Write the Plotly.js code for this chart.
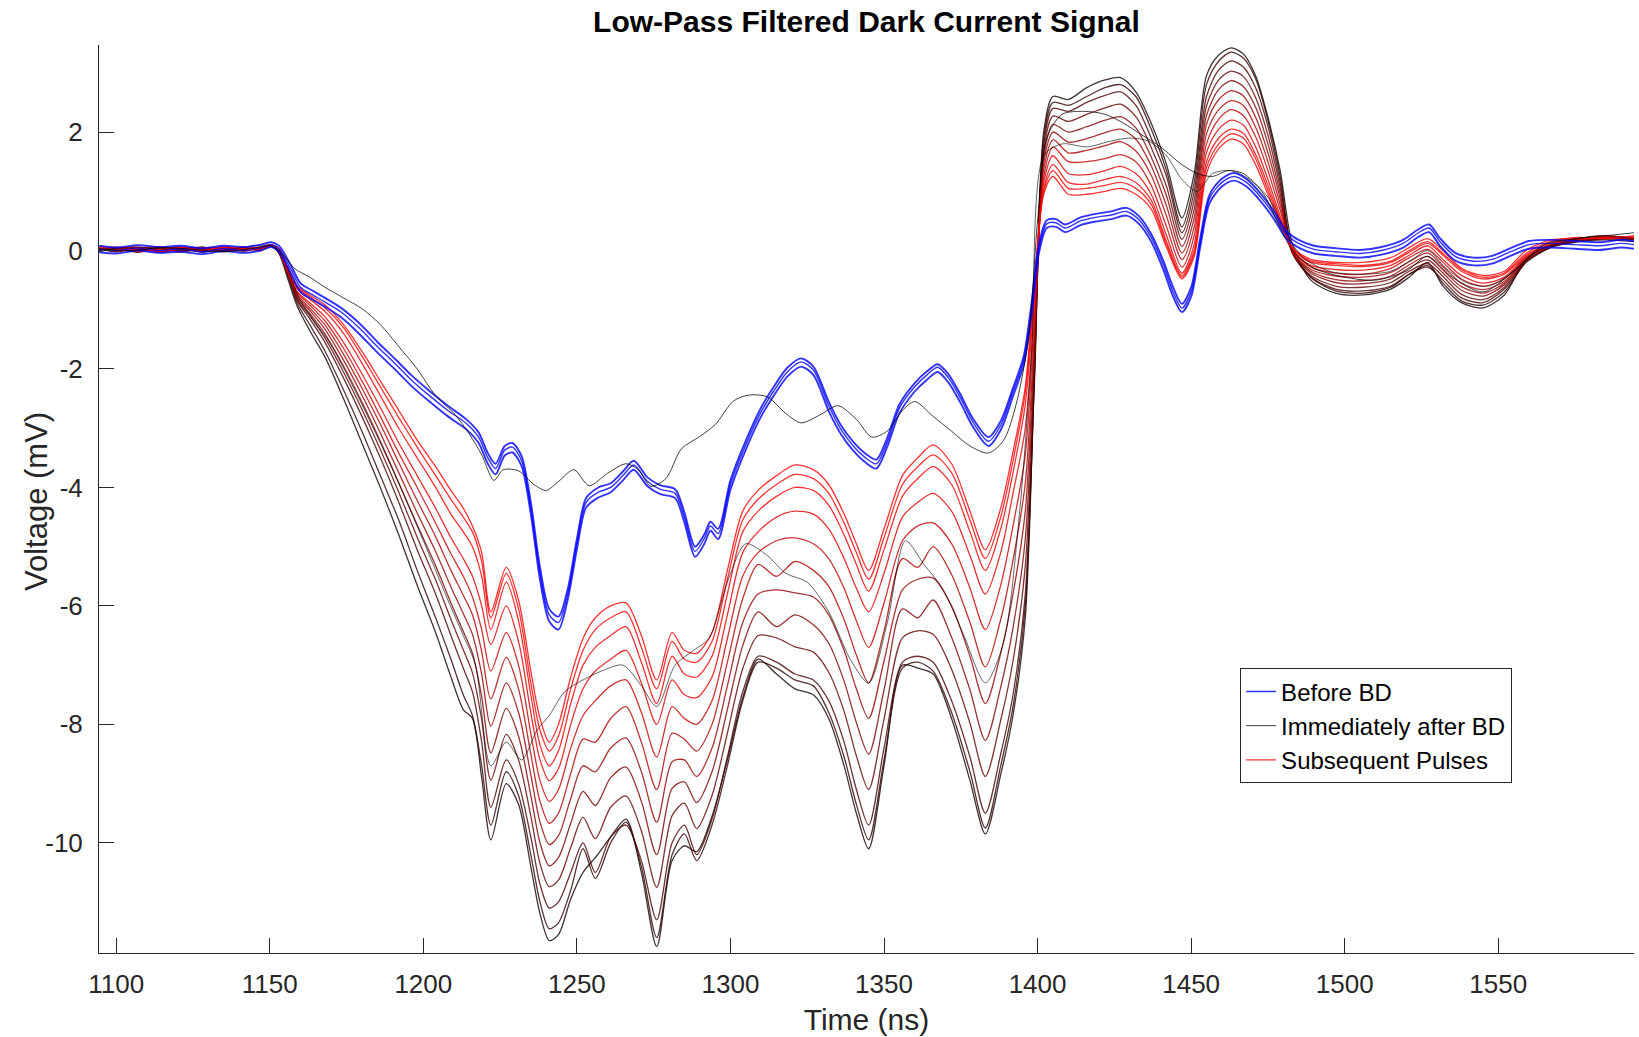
<!DOCTYPE html>
<html>
<head>
<meta charset="utf-8">
<script src="https://cdn.plot.ly/plotly-3.0.1.min.js"></script>
<style>html,body{margin:0;padding:0;background:#fff;}#chart{width:1639px;height:1037px;}</style>
</head>
<body>
<div id="chart"></div>
<script>
// ---------------- DATA ----------------
const xTickVals = [1100,1150,1200,1250,1300,1350,1400,1450,1500,1550];
const xTickText = ['1100','1150','1200','1250','1300','1350','1400','1450','1500','1550'];
const yTickVals = [-10,-8,-6,-4,-2,0,2];
const yTickText = ['-10','-8','-6','-4','-2','0','2'];

// Subsequent pulses (black -> red gradient), shared time grid (ns)
const tGrad = [1094.5,1100,1107,1114,1121,1128,1135,1142,1147,1150.5,
1153,1156,1159,1163,1168,1174,1180,1186,1192,1198,
1204,1209,1213,1216,1219,1222,1227,1231,1235,1238,
1241,1244,1248,1252,1256,1261,1266,1271,1276,1281,
1285,1289,1294,1299,1304,1309,1315,1321,1327,1332,
1337,1341,1345,1350,1356,1361,1366,1372,1378,1383,
1388,1392,1396,1399,1402,1405,1410,1416,1422,1427,
1432,1437,1442,1447,1451,1455,1459,1463,1467,1471,
1475,1479,1483,1489,1497,1506,1515,1521,1527,1532,
1538,1545,1552,1559,1567,1576,1585,1594.2];

const gradD3 = [0.0,0.05,-0.03,0.04,0.0,0.06,-0.02,0.03,0.0,0.08,
-0.05,-0.5,-0.95,-1.35,-1.8,-2.5,-3.25,-4.0,-4.8,-5.65,
-6.45,-7.2,-7.75,-7.9,-8.9,-9.95,-9.0,-9.35,-10.4,-11.2,
-11.65,-11.55,-10.95,-10.5,-10.25,-9.9,-9.6,-10.5,-11.75,-10.3,
-10.05,-10.15,-9.55,-8.6,-7.55,-6.9,-7.15,-7.4,-7.5,-7.9,
-8.7,-9.5,-10.1,-8.7,-7.0,-7.05,-7.15,-7.9,-8.95,-9.85,
-8.85,-7.85,-6.2,-2.0,2.0,2.6,2.55,2.75,2.88,2.92,
2.68,2.15,1.45,0.55,1.3,2.95,3.3,3.42,3.32,2.95,
2.25,1.35,0.1,-0.5,-0.72,-0.75,-0.65,-0.45,-0.2,-0.6,
-0.88,-0.97,-0.75,-0.15,0.1,0.18,0.2,0.2];

const gradD2 = [0.03,-0.02,0.05,0.0,0.05,-0.03,0.04,0.0,0.05,0.07,
-0.03,-0.45,-0.9,-1.25,-1.7,-2.35,-3.05,-3.8,-4.55,-5.4,
-6.2,-6.9,-7.5,-7.85,-8.7,-9.7,-8.8,-9.2,-10.2,-11.0,
-11.45,-11.35,-10.8,-10.1,-10.6,-10.0,-9.65,-10.4,-11.6,-10.2,
-9.85,-10.3,-9.7,-8.7,-7.6,-6.95,-7.05,-7.25,-7.35,-7.8,
-8.55,-9.35,-9.95,-8.6,-7.05,-6.95,-7.1,-7.8,-8.8,-9.75,
-8.7,-7.7,-6.0,-2.1,1.9,2.5,2.45,2.6,2.75,2.8,
2.6,2.05,1.35,0.4,1.15,2.8,3.2,3.35,3.25,2.9,
2.2,1.25,0.0,-0.45,-0.68,-0.72,-0.62,-0.4,-0.25,-0.55,
-0.85,-0.92,-0.7,-0.2,0.05,0.15,0.18,0.15];

const gradD1 = [-0.02,0.04,0.0,0.05,-0.02,0.03,0.0,0.05,0.02,0.08,
-0.02,-0.4,-0.85,-1.15,-1.55,-2.15,-2.8,-3.5,-4.25,-5.05,
-5.8,-6.5,-7.05,-7.45,-8.3,-9.4,-8.6,-9.0,-9.9,-10.7,
-11.1,-11.0,-10.5,-10.0,-10.5,-9.9,-9.7,-10.3,-11.3,-10.0,
-9.7,-10.2,-9.6,-8.55,-7.45,-6.85,-6.95,-7.15,-7.25,-7.6,
-8.3,-9.1,-9.7,-8.4,-6.95,-6.85,-6.95,-7.6,-8.55,-9.5,
-8.5,-7.5,-5.8,-2.2,1.8,2.4,2.35,2.5,2.62,2.68,
2.45,1.9,1.25,0.3,1.0,2.6,3.05,3.2,3.1,2.75,
2.1,1.15,-0.05,-0.45,-0.65,-0.68,-0.6,-0.4,-0.28,-0.5,
-0.8,-0.88,-0.65,-0.2,0.05,0.15,0.2,0.18];

const gradM5 = [0.0,0.04,0.05,-0.03,0.02,0.04,0.03,-0.01,0.04,0.08,
-0.04,-0.4,-0.83,-1.1,-1.48,-2.05,-2.68,-3.36,-4.08,-4.84,
-5.56,-6.23,-6.74,-7.13,-7.92,-8.94,-8.17,-8.6,-9.55,-10.35,
-10.74,-10.63,-10.08,-9.57,-9.93,-9.4,-9.21,-9.8,-10.75,-9.54,
-9.33,-9.76,-9.2,-8.15,-7.06,-6.5,-6.54,-6.69,-6.78,-7.12,
-7.78,-8.53,-9.1,-7.91,-6.54,-6.42,-6.48,-7.07,-7.98,-8.88,
-7.93,-6.93,-5.33,-1.98,1.69,2.27,2.18,2.3,2.41,2.47,
2.26,1.74,1.08,0.19,0.85,2.44,2.88,3.03,2.94,2.58,
1.95,1.06,-0.04,-0.42,-0.6,-0.62,-0.54,-0.35,-0.22,-0.44,
-0.74,-0.83,-0.62,-0.18,0.06,0.16,0.2,0.19];

const gradM4 = [0.05,-0.02,0.03,0.0,0.05,0.03,0.0,0.04,0.06,0.08,
-0.03,-0.39,-0.8,-1.06,-1.41,-1.95,-2.56,-3.22,-3.92,-4.63,
-5.32,-5.95,-6.43,-6.8,-7.53,-8.48,-7.73,-8.2,-9.2,-10.0,
-10.39,-10.25,-9.67,-9.13,-9.37,-8.9,-8.72,-9.3,-10.2,-9.08,
-8.97,-9.32,-8.8,-7.75,-6.67,-6.1,-6.35,-6.15,-6.32,-6.63,
-7.27,-7.97,-8.5,-7.42,-6.05,-6.2,-5.9,-6.53,-7.42,-8.27,
-7.37,-6.37,-4.87,-1.77,1.58,2.13,2.0,2.09,2.2,2.26,
2.07,1.58,0.92,0.07,0.7,2.28,2.72,2.87,2.77,2.42,
1.8,0.96,-0.03,-0.38,-0.54,-0.56,-0.48,-0.29,-0.16,-0.38,
-0.67,-0.77,-0.58,-0.17,0.07,0.17,0.21,0.19];

const gradM3 = [0.03,0.02,-0.02,0.05,0.03,0.01,0.06,0.02,0.03,0.09,
-0.02,-0.39,-0.78,-1.01,-1.33,-1.85,-2.44,-3.08,-3.75,-4.43,
-5.08,-5.68,-6.13,-6.48,-7.15,-8.03,-7.3,-7.8,-8.85,-9.65,
-10.03,-9.88,-9.25,-8.7,-8.8,-8.4,-8.23,-8.8,-9.65,-8.63,
-8.6,-8.88,-8.4,-7.35,-6.28,-5.8,-5.73,-5.78,-5.85,-6.15,
-6.75,-7.4,-7.9,-6.93,-5.73,-5.55,-5.53,-6.0,-6.85,-7.65,
-6.8,-5.8,-4.4,-1.55,1.48,2.0,1.83,1.89,1.99,2.05,
1.88,1.43,0.75,-0.04,0.55,2.13,2.55,2.7,2.61,2.25,
1.65,0.87,-0.03,-0.35,-0.49,-0.51,-0.43,-0.24,-0.1,-0.33,
-0.61,-0.72,-0.55,-0.15,0.08,0.18,0.21,0.2];

const gradM2 = [-0.01,0.05,0.02,0.04,-0.01,0.05,0.02,0.0,0.05,0.08,
-0.01,-0.38,-0.75,-0.97,-1.26,-1.75,-2.32,-2.93,-3.58,-4.22,
-4.83,-5.4,-5.82,-6.15,-6.77,-7.57,-6.87,-7.4,-8.5,-9.3,
-9.67,-9.5,-8.83,-8.25,-8.3,-7.9,-7.7,-8.3,-9.1,-8.15,
-8.25,-8.45,-8.0,-6.95,-5.88,-5.3,-5.5,-5.25,-5.4,-5.67,
-6.23,-6.83,-7.3,-6.43,-5.2,-5.35,-5.0,-5.47,-6.28,-7.03,
-6.23,-5.23,-3.93,-1.33,1.37,1.87,1.65,1.69,1.77,1.84,
1.68,1.27,0.58,-0.15,0.4,1.97,2.38,2.53,2.45,2.08,
1.5,0.77,-0.02,-0.32,-0.43,-0.45,-0.37,-0.19,-0.04,-0.27,
-0.55,-0.66,-0.52,-0.13,0.08,0.18,0.21,0.21];

const gradM1 = [0.04,0.0,0.05,0.02,0.06,0.0,0.03,0.05,0.01,0.09,
0.0,-0.38,-0.72,-0.92,-1.19,-1.65,-2.2,-2.8,-3.42,-4.0,
-4.6,-5.12,-5.5,-5.85,-6.4,-7.1,-6.45,-7.0,-8.15,-8.95,
-9.3,-9.1,-8.4,-7.85,-7.6,-7.35,-7.25,-7.8,-8.55,-7.7,
-7.9,-8.0,-7.6,-6.55,-5.5,-5.1,-4.9,-4.85,-4.95,-5.2,
-5.7,-6.25,-6.7,-5.95,-4.9,-4.65,-4.6,-4.95,-5.7,-6.4,
-5.65,-4.65,-3.45,-1.1,1.25,1.75,1.5,1.5,1.55,1.62,
1.5,1.1,0.4,-0.28,0.25,1.8,2.22,2.38,2.28,1.92,
1.35,0.68,0.0,-0.28,-0.38,-0.4,-0.3,-0.12,0.02,-0.2,
-0.48,-0.6,-0.48,-0.12,0.09,0.19,0.22,0.21];

const gradR4 = [0.0,0.03,0.05,-0.02,0.03,0.04,-0.01,0.04,0.02,0.08,
-0.02,-0.37,-0.7,-0.88,-1.12,-1.55,-2.08,-2.65,-3.25,-3.8,
-4.35,-4.85,-5.2,-5.5,-6.0,-6.65,-6.0,-6.6,-7.8,-8.6,
-8.95,-8.75,-8.0,-7.4,-7.1,-6.9,-6.75,-7.3,-8.0,-7.25,
-7.5,-7.55,-7.2,-6.15,-5.1,-4.75,-4.5,-4.4,-4.45,-4.7,
-5.2,-5.7,-6.1,-5.45,-4.5,-4.25,-4.1,-4.4,-5.15,-5.8,
-5.1,-4.1,-3.0,-0.9,1.15,1.6,1.3,1.28,1.35,1.42,
1.3,0.95,0.25,-0.38,0.1,1.65,2.05,2.2,2.12,1.75,
1.2,0.58,0.0,-0.25,-0.32,-0.33,-0.25,-0.08,0.08,-0.15,
-0.42,-0.55,-0.45,-0.1,0.1,0.2,0.22,0.22];

const gradR3 = [0.02,0.06,-0.02,0.03,0.05,-0.02,0.06,0.0,0.04,0.09,
0.0,-0.35,-0.65,-0.82,-1.03,-1.4,-1.9,-2.45,-3.0,-3.5,
-4.0,-4.45,-4.75,-5.0,-5.5,-6.4,-5.6,-6.25,-7.5,-8.35,
-8.7,-8.45,-7.65,-7.0,-6.7,-6.5,-6.35,-6.95,-7.65,-6.85,
-7.15,-7.2,-6.85,-5.8,-4.75,-4.4,-4.15,-4.0,-4.05,-4.3,
-4.8,-5.3,-5.75,-5.05,-4.15,-3.85,-3.65,-3.95,-4.75,-5.4,
-4.7,-3.75,-2.6,-0.75,1.05,1.45,1.15,1.12,1.2,1.25,
1.15,0.85,0.15,-0.42,0.0,1.5,1.9,2.05,1.98,1.62,
1.1,0.52,0.02,-0.2,-0.25,-0.27,-0.2,-0.03,0.12,-0.08,
-0.35,-0.48,-0.4,-0.08,0.12,0.2,0.25,0.2];

const gradR2 = [0.08,0.0,0.03,0.06,-0.03,0.05,0.02,0.06,0.0,0.1,
0.03,-0.32,-0.62,-0.78,-0.97,-1.3,-1.78,-2.3,-2.82,-3.32,
-3.8,-4.2,-4.5,-4.75,-5.25,-6.2,-5.45,-6.05,-7.3,-8.1,
-8.45,-8.2,-7.4,-6.75,-6.4,-6.2,-6.1,-6.7,-7.4,-6.6,
-6.9,-6.95,-6.6,-5.55,-4.55,-4.2,-3.95,-3.78,-3.85,-4.1,
-4.6,-5.1,-5.55,-4.85,-3.95,-3.65,-3.45,-3.75,-4.55,-5.2,
-4.5,-3.55,-2.4,-0.6,1.0,1.35,1.05,1.05,1.1,1.15,
1.05,0.78,0.1,-0.45,-0.05,1.4,1.8,1.97,1.9,1.55,
1.02,0.5,0.05,-0.18,-0.22,-0.25,-0.18,0.0,0.15,-0.05,
-0.32,-0.45,-0.38,-0.05,0.15,0.22,0.2,0.25];

const gradR1 = [0.05,0.02,0.06,-0.02,0.04,0.0,0.05,0.02,0.06,0.1,
0.02,-0.3,-0.6,-0.75,-0.92,-1.25,-1.7,-2.2,-2.7,-3.2,
-3.65,-4.05,-4.35,-4.65,-5.1,-6.1,-5.35,-5.9,-7.1,-7.9,
-8.3,-8.0,-7.2,-6.55,-6.2,-6.0,-5.95,-6.5,-7.25,-6.45,
-6.75,-6.8,-6.45,-5.4,-4.4,-4.05,-3.8,-3.62,-3.7,-3.95,
-4.45,-4.95,-5.4,-4.7,-3.8,-3.5,-3.28,-3.6,-4.4,-5.05,
-4.35,-3.4,-2.3,-0.5,0.95,1.25,0.95,0.95,1.0,1.05,
0.95,0.7,0.05,-0.48,-0.1,1.3,1.72,1.88,1.8,1.45,
0.95,0.45,0.05,-0.15,-0.2,-0.2,-0.12,0.05,0.2,0.0,
-0.3,-0.42,-0.35,0.0,0.18,0.2,0.24,0.22];

// Before BD (blue bundle)
const tBlue = [1094.5,1100,1107,1114,1121,1128,1135,1142,1147,1150.5,
1153,1157,1160,1164,1168,1173,1179,1185,1191,1196,
1202,1208,1214,1218,1221,1223.5,1226.5,1229,1232,1235,
1238,1241,1244,1247,1250,1253,1257,1261,1265,1268.5,
1273,1277,1282,1285,1288.5,1291.5,1293.5,1296,1300,1305,
1310,1314,1318.5,1323,1327,1332,1336,1340,1344,1347.5,
1351,1355,1360,1364,1367.5,1371,1375,1379,1384,1388,
1392,1395.5,1398,1400.5,1403,1406,1409,1414,1419,1424,
1429,1433,1437,1441,1444,1447,1450,1453,1456,1460,
1464,1468,1473,1477,1481,1485,1490,1497,1505,1512,
1519,1524,1527.5,1531,1536,1542,1548,1554,1560,1567,
1575,1583,1590,1594.2];

const blueUpper = [0.08,0.05,0.09,0.06,0.08,0.04,0.08,0.06,0.1,0.14,
0.08,-0.26,-0.55,-0.68,-0.8,-0.96,-1.22,-1.54,-1.84,-2.1,
-2.37,-2.62,-2.85,-3.07,-3.42,-3.6,-3.3,-3.25,-3.47,-4.25,
-5.35,-6.05,-6.18,-5.72,-4.87,-4.18,-4.0,-3.93,-3.73,-3.55,
-3.83,-3.96,-4.03,-4.42,-5.0,-4.79,-4.58,-4.7,-3.88,-3.21,
-2.65,-2.31,-1.98,-1.82,-1.96,-2.55,-2.95,-3.23,-3.43,-3.53,
-3.17,-2.6,-2.24,-2.04,-1.92,-2.09,-2.44,-2.84,-3.15,-2.88,
-2.32,-1.78,-0.9,0.12,0.51,0.53,0.44,0.56,0.62,0.66,
0.72,0.58,0.28,-0.18,-0.6,-0.9,-0.62,0.22,0.94,1.21,
1.31,1.21,0.94,0.66,0.33,0.18,0.08,0.04,0.01,0.06,
0.18,0.36,0.44,0.21,-0.04,-0.12,-0.09,0.04,0.16,0.18,
0.16,0.14,0.18,0.16];

const blueMid = [0.02,0.0,0.04,0.0,0.03,-0.02,0.03,0.0,0.05,0.1,
0.03,-0.33,-0.62,-0.75,-0.87,-1.03,-1.3,-1.62,-1.92,-2.18,
-2.45,-2.7,-2.92,-3.15,-3.5,-3.68,-3.37,-3.32,-3.55,-4.35,
-5.45,-6.15,-6.28,-5.8,-4.95,-4.25,-4.08,-4.0,-3.8,-3.62,
-3.9,-4.03,-4.1,-4.5,-5.08,-4.86,-4.65,-4.78,-3.95,-3.28,
-2.72,-2.38,-2.05,-1.88,-2.02,-2.62,-3.02,-3.3,-3.5,-3.6,
-3.24,-2.66,-2.3,-2.1,-1.97,-2.15,-2.5,-2.9,-3.22,-2.95,
-2.38,-1.85,-1.0,0.05,0.45,0.47,0.38,0.5,0.56,0.6,
0.66,0.52,0.22,-0.25,-0.68,-0.97,-0.7,0.15,0.88,1.15,
1.25,1.15,0.88,0.6,0.27,0.12,0.02,-0.02,-0.05,0.0,
0.12,0.3,0.38,0.15,-0.1,-0.18,-0.15,-0.02,0.1,0.12,
0.1,0.08,0.12,0.1];

const blueLower = [-0.03,-0.05,0.0,-0.04,-0.02,-0.06,-0.01,-0.04,0.0,0.06,
-0.02,-0.4,-0.7,-0.83,-0.95,-1.12,-1.4,-1.72,-2.02,-2.28,
-2.55,-2.8,-3.02,-3.25,-3.6,-3.78,-3.46,-3.41,-3.64,-4.45,
-5.56,-6.26,-6.4,-5.9,-5.05,-4.34,-4.17,-4.08,-3.88,-3.7,
-3.98,-4.11,-4.18,-4.59,-5.17,-4.95,-4.73,-4.87,-4.04,-3.36,
-2.8,-2.46,-2.13,-1.96,-2.1,-2.71,-3.1,-3.38,-3.58,-3.68,
-3.32,-2.75,-2.38,-2.18,-2.05,-2.23,-2.58,-2.98,-3.3,-3.03,
-2.46,-1.93,-1.1,-0.03,0.38,0.4,0.31,0.43,0.49,0.53,
0.59,0.45,0.15,-0.33,-0.76,-1.04,-0.78,0.07,0.8,1.08,
1.18,1.08,0.81,0.53,0.2,0.05,-0.05,-0.09,-0.12,-0.07,
0.05,0.23,0.31,0.08,-0.17,-0.25,-0.22,-0.09,0.03,0.05,
0.03,0.01,0.05,0.03];

// Immediately after BD (thin black trace)
const tAfter = [1094.5,1105,1115,1125,1135,1145,1150.5,1154,1158,1163,
1168,1174,1180,1186,1192,1198,1204,1210,1215,1219,
1223,1226,1231,1236,1240,1244,1249,1254,1260,1266,
1270,1274,1279,1284,1290,1295,1301,1306,1312,1318,
1323,1329,1335,1341,1346,1351,1356,1360,1366,1372,
1378,1384,1389,1393,1397,1400,1403,1408,1415,1422,
1428,1434,1440,1447,1452,1457,1462,1467,1473,1478,
1483,1490,1500,1510,1520,1527,1535,1545,1555,1565,
1575,1585,1594.2];
const vAfter = [0.03,0.0,0.05,0.02,-0.02,0.04,0.08,-0.05,-0.3,-0.45,
-0.62,-0.8,-0.98,-1.25,-1.62,-2.0,-2.45,-2.75,-3.1,-3.45,
-3.88,-3.7,-3.72,-3.95,-4.05,-3.9,-3.7,-3.97,-3.76,-3.6,
-3.7,-3.98,-3.85,-3.35,-3.14,-2.94,-2.54,-2.44,-2.47,-2.75,
-2.91,-2.78,-2.62,-2.85,-3.15,-3.05,-2.7,-2.55,-2.8,-3.05,
-3.3,-3.42,-3.2,-2.6,-1.5,0.5,1.9,2.3,2.35,2.3,
2.15,1.95,1.75,1.45,1.3,1.25,1.35,1.3,1.0,0.5,
0.0,-0.3,-0.45,-0.5,-0.35,-0.1,-0.45,-0.7,-0.35,0.1,
0.2,0.25,0.3];

// a second faint grey pulse inside the gradient
const tGrey = [1094.5,1110,1130,1150.5,1154,1160,1170,1180,1190,1200,
1208,1213,1217,1222,1227,1232,1237,1241,1246,1252,
1258,1265,1271,1276,1282,1288,1293,1299,1305,1312,
1318,1325,1332,1339,1345,1351,1357,1363,1369,1376,
1383,1389,1394,1398,1402,1408,1416,1424,1430,1436,
1442,1447,1452,1457,1463,1469,1475,1480,1486,1495,
1505,1515,1522,1527,1533,1540,1547,1555,1563,1572,
1582,1594.2];
const vGrey = [0.02,0.05,-0.02,0.08,-0.1,-0.85,-1.6,-2.6,-3.7,-4.9,
-5.9,-6.5,-7.0,-8.7,-8.3,-8.6,-8.1,-7.85,-7.45,-7.25,
-7.1,-7.0,-7.35,-7.7,-7.0,-6.75,-6.55,-5.6,-4.95,-5.15,
-5.45,-5.6,-6.1,-6.9,-7.3,-6.3,-4.9,-5.3,-5.7,-6.5,
-7.3,-6.6,-4.5,-1.8,1.6,1.8,1.75,1.85,1.9,1.85,
1.6,1.2,1.0,1.3,1.35,1.2,0.9,0.4,-0.1,-0.35,
-0.4,-0.35,-0.15,0.0,-0.3,-0.55,-0.6,-0.35,0.0,0.15,
0.25,0.2];

// ---------------- BUILD ----------------
function check(name, t, v) {
  if (t.length !== v.length) throw new Error('length mismatch ' + name + ': ' + t.length + ' vs ' + v.length);
}
const gradSeries = [
  ['D3', gradD3, 'rgb(20,0,0)'], ['D2', gradD2, 'rgb(45,0,0)'], ['D1', gradD1, 'rgb(70,0,0)'],
  ['M5', gradM5, 'rgb(95,0,0)'], ['M4', gradM4, 'rgb(120,0,0)'], ['M3', gradM3, 'rgb(145,0,0)'],
  ['M2', gradM2, 'rgb(170,0,0)'], ['M1', gradM1, 'rgb(195,0,0)'], ['R4', gradR4, 'rgb(222,0,0)'],
  ['R3', gradR3, 'rgb(240,0,0)'], ['R2', gradR2, 'rgb(250,0,0)'], ['R1', gradR1, 'rgb(255,0,0)']
];
const traces = [];
gradSeries.forEach(function (g) {
  check(g[0], tGrad, g[1]);
  traces.push({
    x: tGrad, y: g[1], type: 'scatter', mode: 'lines',
    line: {color: g[2], width: 1.3, shape: 'spline', smoothing: 0.8},
    opacity: 0.8,
    name: 'Subsequent Pulses', showlegend: g[0] === 'R1', legendrank: 3, hoverinfo: 'skip'
  });
});
check('grey', tGrey, vGrey);
traces.push({x: tGrey, y: vGrey, type: 'scatter', mode: 'lines',
  line: {color: 'rgb(0,0,0)', width: 1, shape: 'spline', smoothing: 0.8}, opacity: 0.6,
  showlegend: false, hoverinfo: 'skip'});

[['blueUpper', blueUpper, 1.9], ['blueLower', blueLower, 1.9], ['blueMid', blueMid, 1.4]].forEach(function (b) {
  check(b[0], tBlue, b[1]);
  traces.push({x: tBlue, y: b[1], type: 'scatter', mode: 'lines',
    line: {color: 'rgb(0,0,255)', width: b[2], shape: 'spline', smoothing: 0.8}, opacity: 0.8,
    name: 'Before BD', showlegend: b[0] === 'blueMid', legendrank: 1, hoverinfo: 'skip'});
});
check('after', tAfter, vAfter);
traces.push({x: tAfter, y: vAfter, type: 'scatter', mode: 'lines',
  line: {color: 'rgb(0,0,0)', width: 1, shape: 'spline', smoothing: 0.8}, opacity: 0.75,
  name: 'Immediately after BD', showlegend: true, legendrank: 2, hoverinfo: 'skip'});

const FONT = 'Liberation Sans, Arial, Helvetica, sans-serif';
const layout = {
  width: 1639, height: 1037,
  margin: {l: 99, r: 5, t: 45, b: 84},
  paper_bgcolor: '#ffffff', plot_bgcolor: '#ffffff',
  font: {family: FONT, color: '#262626'},
  title: {text: '<b>Low-Pass Filtered Dark Current Signal</b>', font: {family: FONT, size: 30, color: '#000000'},
    x: 0.5, xref: 'paper', xanchor: 'center', y: 1 - 21 / 1037, yref: 'container', yanchor: 'middle'},
  xaxis: {
    range: [1094.4, 1594.2], tickmode: 'array', tickvals: xTickVals, ticktext: xTickText,
    ticks: 'inside', ticklen: 15, tickwidth: 1, tickcolor: '#262626',
    showline: true, linecolor: '#262626', linewidth: 1, mirror: false,
    showgrid: false, zeroline: false, ticklabelstandoff: 8,
    tickfont: {family: FONT, size: 26, color: '#262626'},
    title: {text: 'Time (ns)', font: {family: FONT, size: 30, color: '#262626'}, standoff: 10}
  },
  yaxis: {
    range: [-11.86, 3.47], tickmode: 'array', tickvals: yTickVals, ticktext: yTickText,
    ticks: 'inside', ticklen: 15, tickwidth: 1, tickcolor: '#262626',
    showline: true, linecolor: '#262626', linewidth: 1, mirror: false,
    showgrid: false, zeroline: false, ticklabelstandoff: 10,
    tickfont: {family: FONT, size: 26, color: '#262626'}
  },
  annotations: [{
    text: 'Voltage (mV)', textangle: -90, showarrow: false,
    xref: 'paper', yref: 'paper', x: (36.6 - 99.3) / 1534.4, y: 0.497,
    xanchor: 'center', yanchor: 'middle',
    font: {family: FONT, size: 31, color: '#262626'}
  }],
  showlegend: true,
  legend: {x: 0.7434, y: 0.3135, xanchor: 'left', yanchor: 'top', xref: 'paper', yref: 'paper',
    bgcolor: '#ffffff', bordercolor: '#262626', borderwidth: 1,
    font: {family: FONT, size: 24, color: '#000000'}, tracegroupgap: 0, itemwidth: 30},
  hovermode: false
};
Plotly.newPlot('chart', traces, layout, {displayModeBar: false, staticPlot: true});
</script>
</body>
</html>
